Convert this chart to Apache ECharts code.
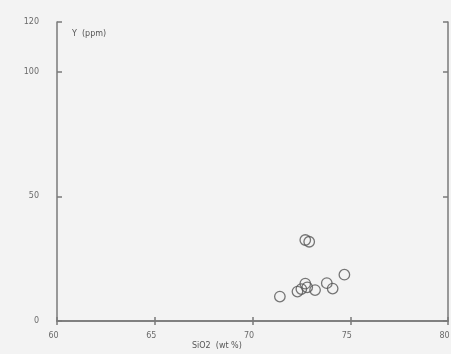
<!DOCTYPE html>
<html>
<head>
<meta charset="utf-8">
<script src="https://cdn.jsdelivr.net/npm/echarts@6/dist/echarts.min.js"></script>
<style>
  html, body { margin: 0; padding: 0; background: #f3f3f3; }
  #chart { width: 451px; height: 354px; }
</style>
</head>
<body>
<div id="chart"></div>
<script>
// SiO2 (wt %) against Y (ppm) for each sample
const sio2 = [71.4, 72.3, 72.5, 72.7, 72.8, 73.2, 73.8, 74.1, 74.7, 72.7, 72.9];
const yPpm = [9.8, 11.8, 12.8, 15.0, 13.5, 12.4, 15.2, 13.0, 18.6, 32.5, 31.8];
const xTicks = [60, 65, 70, 75, 80];
const yTicks = [0, 50, 100, 120];

const points = sio2.map((x, i) => [x, yPpm[i]]);

const labelStyle = { color: '#6a6a6a', fontSize: 8, fontFamily: 'DejaVu Sans' };
const lineStyle = { color: '#7a7a7a', width: 1.5 };

const chart = echarts.init(document.getElementById('chart'));
chart.setOption({
  backgroundColor: '#f3f3f3',
  animation: false,
  grid: { left: 57, right: 3, top: 22, bottom: 33, outerBoundsMode: 'none', containLabel: false },
  xAxis: [
    {
      type: 'value', min: xTicks[0], max: xTicks[xTicks.length - 1], interval: 5,
      axisLine: { show: true, lineStyle: lineStyle },
      axisTick: { show: true, inside: true, length: 4, lineStyle: lineStyle },
      axisLabel: { ...labelStyle, margin: 11, padding: [0, 7, 0, 0] },
      splitLine: { show: false }
    },
    {
      type: 'value', position: 'top', min: xTicks[0], max: xTicks[xTicks.length - 1], interval: 5,
      axisLine: { show: true, lineStyle: lineStyle },
      axisTick: { show: true, inside: true, length: 4, lineStyle: lineStyle },
      axisLabel: { show: false },
      splitLine: { show: false }
    }
  ],
  yAxis: [
    {
      type: 'value', min: yTicks[0], max: yTicks[yTicks.length - 1], interval: 50,
      axisLine: { show: true, lineStyle: lineStyle },
      axisTick: { show: true, inside: true, length: 5, lineStyle: lineStyle },
      axisLabel: { ...labelStyle, margin: 18, showMaxLabel: true },
      splitLine: { show: false }
    },
    {
      type: 'value', position: 'right', min: yTicks[0], max: yTicks[yTicks.length - 1], interval: 50,
      axisLine: { show: true, lineStyle: lineStyle },
      axisTick: { show: true, inside: true, length: 5, lineStyle: lineStyle },
      axisLabel: { show: false },
      splitLine: { show: false }
    }
  ],
  graphic: [
    {
      type: 'text', left: 72, top: 30,
      style: { text: 'Y  (ppm)', fill: '#555', font: '8px "DejaVu Sans"' }
    },
    {
      type: 'text', left: 192, top: 342,
      style: { text: 'SiO2  (wt %)', fill: '#555', font: '8px "DejaVu Sans"' }
    }
  ],
  series: [
    {
      type: 'scatter',
      xAxisIndex: 0, yAxisIndex: 0,
      data: points,
      symbol: 'circle',
      symbolSize: 10.5,
      itemStyle: { color: 'transparent', borderColor: '#555', borderWidth: 1.3 }
    }
  ]
});
</script>
</body>
</html>
